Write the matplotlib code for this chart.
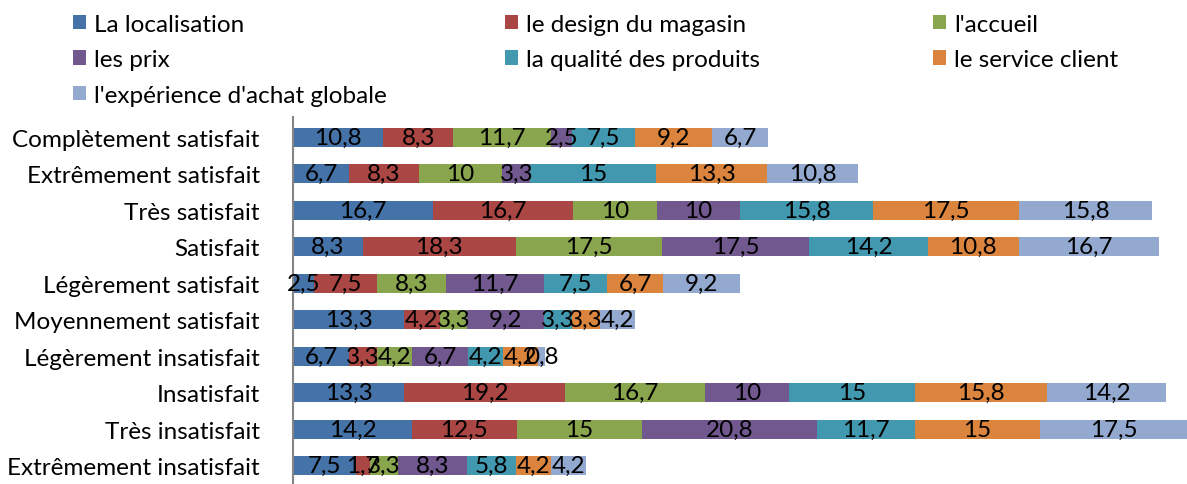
import matplotlib
matplotlib.use("Agg")
import matplotlib.pyplot as plt
import numpy as np

plt.rcParams['font.family'] = ['Lato', 'DejaVu Sans']

categories = ["Complètement satisfait", "Extrêmement satisfait", "Très satisfait",
              "Satisfait", "Légèrement satisfait", "Moyennement satisfait",
              "Légèrement insatisfait", "Insatisfait", "Très insatisfait",
              "Extrêmement insatisfait"]

series_names = ["La localisation", "le design du magasin", "l'accueil",
                "les prix", "la qualité des produits", "le service client",
                "l'expérience d'achat globale"]

localisation = [10.8, 6.7, 16.7, 8.3, 2.5, 13.3, 6.7, 13.3, 14.2, 7.5]
design = [8.3, 8.3, 16.7, 18.3, 7.5, 4.2, 3.3, 19.2, 12.5, 1.7]
accueil = [11.7, 10, 10, 17.5, 8.3, 3.3, 4.2, 16.7, 15, 3.3]
prix = [2.5, 3.3, 10, 17.5, 11.7, 9.2, 6.7, 10, 20.8, 8.3]
qualite = [7.5, 15, 15.8, 14.2, 7.5, 3.3, 4.2, 15, 11.7, 5.8]
service = [9.2, 13.3, 17.5, 10.8, 6.7, 3.3, 4.2, 15.8, 15, 4.2]
experience = [6.7, 10.8, 15.8, 16.7, 9.2, 4.2, 0.8, 14.2, 17.5, 4.2]

series = [localisation, design, accueil, prix, qualite, service, experience]
colors = ["#4572A7", "#AA4643", "#89A54E", "#71588F", "#4198AF", "#DB843D", "#93A9CF"]

fig = plt.figure(figsize=(11.87, 4.85), dpi=100)
ax = fig.add_axes([293 / 1187, 0, 894 / 1187, 367 / 485])

y = np.arange(len(categories))[::-1]
left = np.zeros(len(categories))
handles = []
for vals, name, c in zip(series, series_names, colors):
    vals = np.array(vals)
    bars = ax.barh(y, vals, left=left, height=0.52, color=c, label=name)
    ax.bar_label(bars, labels=[("%g" % v).replace(".", ",") for v in vals],
                 label_type="center", fontsize=17.5, color="black")
    handles.append(bars)
    left += vals

ax.set_xlim(0, 106.7)
ax.set_ylim(-0.5, 9.55)
ax.set_yticks(y)
ax.set_yticklabels(categories, fontsize=17.5)
ax.tick_params(axis="y", length=0, pad=24)
ax.set_xticks([])
for s in ["top", "right", "bottom"]:
    ax.spines[s].set_visible(False)
ax.spines["left"].set_color("#868686")
ax.spines["left"].set_linewidth(1.5)

# légende en trois colonnes
col_x = [58, 490, 918]
for col in range(3):
    fig.legend(handles[col::3], series_names[col::3], loc="upper left",
               bbox_to_anchor=(col_x[col] / 1187, 1.0), frameon=False,
               fontsize=17.5, handlelength=0.55, handleheight=0.55,
               handletextpad=0.35, labelspacing=0.6, borderaxespad=0.2)

fig.savefig("out.png", dpi=100)
